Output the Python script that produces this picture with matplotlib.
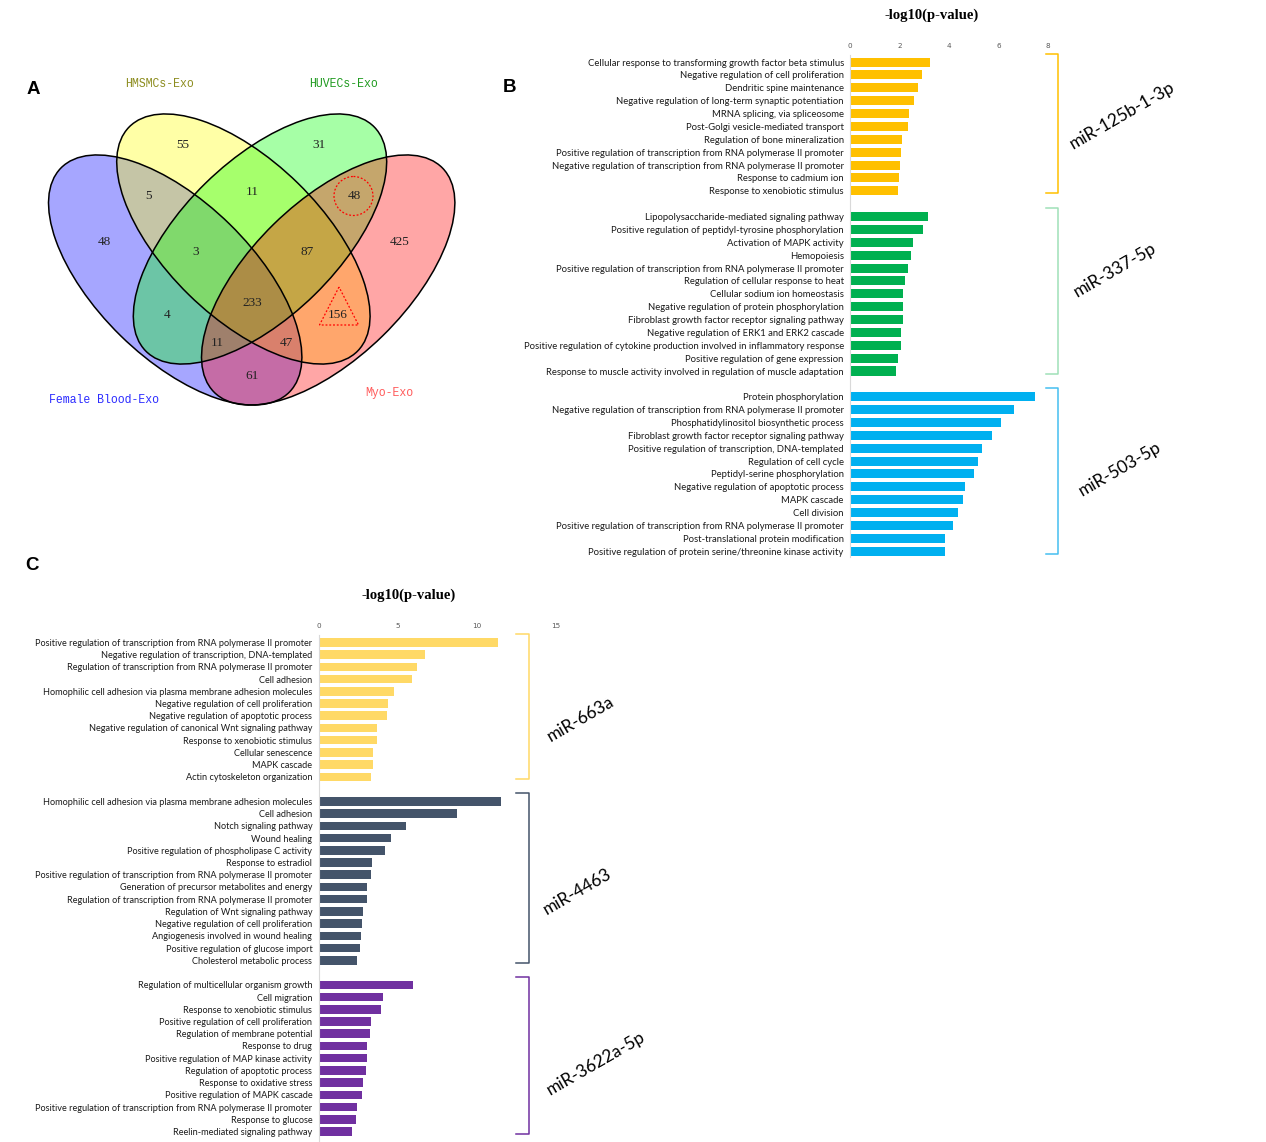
import numpy as np
import matplotlib.pyplot as plt
from matplotlib.patches import Ellipse, Circle, Polygon

# ---------------- data ----------------
venn_sets = ['Female Blood-Exo', 'HMSMCs-Exo', 'HUVECs-Exo', 'Myo-Exo']
venn_set_colors = ['#2b2bff', '#8c8c1e', '#1f9a1f', '#ff5a5a']
venn_fill = ['#0000ff', '#ffff00', '#00ff00', '#ff0000']
venn_regions = ['B', 'H', 'U', 'M', 'BH', 'HU', 'UM', 'BHU', 'HUM', 'BHUM', 'BU', 'HM', 'BUM', 'BHM', 'BM']
venn_counts = [48, 55, 31, 425, 5, 11, 48, 3, 87, 233, 4, 156, 11, 47, 61]

b1_terms = ['Cellular response to transforming growth factor beta stimulus',
            'Negative regulation of cell proliferation',
            'Dendritic spine maintenance',
            'Negative regulation of long-term synaptic potentiation',
            'MRNA splicing, via spliceosome',
            'Post-Golgi vesicle-mediated transport',
            'Regulation of bone mineralization',
            'Positive regulation of transcription from RNA polymerase II promoter',
            'Negative regulation of transcription from RNA polymerase II promoter',
            'Response to cadmium ion',
            'Response to xenobiotic stimulus']
b1_vals = [3.24, 2.90, 2.76, 2.60, 2.40, 2.34, 2.11, 2.08, 2.04, 1.97, 1.93]

b2_terms = ['Lipopolysaccharide-mediated signaling pathway',
            'Positive regulation of peptidyl-tyrosine phosphorylation',
            'Activation of MAPK activity',
            'Hemopoiesis',
            'Positive regulation of transcription from RNA polymerase II promoter',
            'Regulation of cellular response to heat',
            'Cellular sodium ion homeostasis',
            'Negative regulation of protein phosphorylation',
            'Fibroblast growth factor receptor signaling pathway',
            'Negative regulation of ERK1 and ERK2 cascade',
            'Positive regulation of cytokine production involved in inflammatory response',
            'Positive regulation of gene expression',
            'Response to muscle activity involved in regulation of muscle adaptation']
b2_vals = [3.14, 2.94, 2.56, 2.46, 2.36, 2.21, 2.16, 2.14, 2.14, 2.08, 2.06, 1.94, 1.85]

b3_terms = ['Protein phosphorylation',
            'Negative regulation of transcription from RNA polymerase II promoter',
            'Phosphatidylinositol biosynthetic process',
            'Fibroblast growth factor receptor signaling pathway',
            'Positive regulation of transcription, DNA-templated',
            'Regulation of cell cycle',
            'Peptidyl-serine phosphorylation',
            'Negative regulation of apoptotic process',
            'MAPK cascade',
            'Cell division',
            'Positive regulation of transcription from RNA polymerase II promoter',
            'Post-translational protein modification',
            'Positive regulation of protein serine/threonine kinase activity']
b3_vals = [7.49, 6.61, 6.11, 5.72, 5.32, 5.17, 5.01, 4.65, 4.55, 4.37, 4.16, 3.85, 3.85]

c1_terms = ['Positive regulation of transcription from RNA polymerase II promoter',
            'Negative regulation of transcription, DNA-templated',
            'Regulation of transcription from RNA polymerase II promoter',
            'Cell adhesion',
            'Homophilic cell adhesion via plasma membrane adhesion molecules',
            'Negative regulation of cell proliferation',
            'Negative regulation of apoptotic process',
            'Negative regulation of canonical Wnt signaling pathway',
            'Response to xenobiotic stimulus',
            'Cellular senescence',
            'MAPK cascade',
            'Actin cytoskeleton organization']
c1_vals = [11.37, 6.75, 6.25, 5.89, 4.80, 4.38, 4.33, 3.72, 3.70, 3.43, 3.41, 3.31]

c2_terms = ['Homophilic cell adhesion via plasma membrane adhesion molecules',
            'Cell adhesion',
            'Notch signaling pathway',
            'Wound healing',
            'Positive regulation of phospholipase C activity',
            'Response to estradiol',
            'Positive regulation of transcription from RNA polymerase II promoter',
            'Generation of precursor metabolites and energy',
            'Regulation of transcription from RNA polymerase II promoter',
            'Regulation of Wnt signaling pathway',
            'Negative regulation of cell proliferation',
            'Angiogenesis involved in wound healing',
            'Positive regulation of glucose import',
            'Cholesterol metabolic process']
c2_vals = [11.55, 8.73, 5.50, 4.55, 4.17, 3.40, 3.29, 3.04, 3.04, 2.82, 2.77, 2.66, 2.59, 2.41]

c3_terms = ['Regulation of multicellular organism growth',
            'Cell migration',
            'Response to xenobiotic stimulus',
            'Positive regulation of cell proliferation',
            'Regulation of membrane potential',
            'Response to drug',
            'Positive regulation of MAP kinase activity',
            'Regulation of apoptotic process',
            'Response to oxidative stress',
            'Positive regulation of MAPK cascade',
            'Positive regulation of transcription from RNA polymerase II promoter',
            'Response to glucose',
            'Reelin-mediated signaling pathway']
c3_vals = [6.00, 4.08, 3.92, 3.29, 3.25, 3.06, 3.04, 2.98, 2.84, 2.73, 2.41, 2.39, 2.14]

b_mirs = ['miR-125b-1-3p', 'miR-337-5p', 'miR-503-5p']
b_colors = ['#ffc000', '#00b050', '#00b0f0']
b_bracket_colors = ['#ffc000', '#9fe0b8', '#45bff0']
c_mirs = ['miR-663a', 'miR-4463', 'miR-3622a-5p']
c_colors = ['#ffd966', '#44546a', '#7030a0']

# ---------------- layout ----------------
W, H = 1266, 1142
fig = plt.figure(figsize=(W / 100, H / 100), dpi=100)


def rect(x0, y0, x1, y1):
    return [x0 / W, 1 - y1 / H, (x1 - x0) / W, (y1 - y0) / H]


ov = fig.add_axes([0, 0, 1, 1])
ov.set_xlim(0, W)
ov.set_ylim(H, 0)
ov.axis('off')

# Venn (pixel geometry of the 4-ellipse layout)
ell = [((175.2, 280), 44.4), ((243.4, 239), 44.4), ((260.0, 239), -44.4), ((328.2, 280), -44.4)]
for (c, ang), fc in zip(ell, venn_fill):
    ov.add_patch(Ellipse(c, 320, 156, angle=ang, facecolor=fc, alpha=0.35, edgecolor='none'))
for (c, ang) in ell:
    ov.add_patch(Ellipse(c, 320, 156, angle=ang, facecolor='none', edgecolor='black', lw=1.1))

region_pos = {'B': (104, 242), 'H': (183, 145), 'U': (319, 145), 'M': (400, 242),
              'BH': (149, 196), 'HU': (252, 192), 'UM': (354, 196), 'BHU': (196, 252),
              'HUM': (307, 252), 'BHUM': (252, 303), 'BU': (167, 315), 'HM': (338, 315),
              'BUM': (217, 343), 'BHM': (286, 343), 'BM': (252, 376)}
for r, n in zip(venn_regions, venn_counts):
    x, y = region_pos[r]
    ov.text(x, y, str(n), ha='center', va='center', fontsize=9.5,
            family='Liberation Serif', color='#222222')

ov.add_patch(Circle((353.5, 196), 19.5, fill=False, ec='red', lw=0.9, ls=(0, (1.5, 1.5))))
ov.add_patch(Polygon([(339, 287), (319.5, 325), (358.5, 325)], closed=True, fill=False,
                     ec='red', lw=0.9, ls=(0, (1.5, 1.5))))

set_label_pos = [(104, 400), (160, 84), (343, 84), (389, 393)]
for name, col, (x, y) in zip(venn_sets, venn_set_colors, set_label_pos):
    ov.text(x, y, name, ha='center', va='center', fontsize=8.3, family='Liberation Mono', color=col)

for letter, (x, y) in zip(['A', 'B', 'C'], [(33, 90), (510, 87), (32, 566)]):
    ov.text(x, y, letter, ha='center', va='center', fontsize=13.5, fontweight='bold',
            family='Liberation Sans')

label_font = 'Lato'


def bar_panel(box, xmax, xticks, groups, vals, terms, colors, bcolors, bx, ylim, fs):
    ax = fig.add_axes(rect(*box))
    ax.set_facecolor('none')
    pos, v, t, c = [], [], [], []
    spans = []
    k = 0
    for g in range(groups):
        start = k
        for val, term in zip(vals[g], terms[g]):
            pos.append(k)
            v.append(val)
            t.append(term)
            c.append(colors[g])
            k += 1
        spans.append((start, k - 1))
        k += 1
    ax.barh(pos, v, height=0.7, color=c)
    ax.set_xlim(0, xmax)
    ax.set_ylim(*ylim)
    ax.set_xticks(xticks)
    ax.xaxis.tick_top()
    ax.tick_params(axis='x', length=0, labelsize=5.2, labelcolor='#595959', pad=4)
    ax.set_yticks(pos)
    ax.set_yticklabels(t, fontsize=fs, family=label_font, color='#1a1a1a')
    ax.tick_params(axis='y', length=0, pad=4.5)
    for s in ['top', 'right', 'bottom']:
        ax.spines[s].set_visible(False)
    ax.spines['left'].set_color('#d9d9d9')
    for (s0, s1), bc in zip(spans, bcolors):
        x0, x1 = bx
        ax.plot([x0, x1, x1, x0], [s0 - 0.65, s0 - 0.65, s1 + 0.2, s1 + 0.2],
                color=bc, lw=1.1, clip_on=False)
    return ax


axb = bar_panel((850, 55, 1048, 557), 8, [0, 2, 4, 6, 8], 3,
                [b1_vals, b2_vals, b3_vals], [b1_terms, b2_terms, b3_terms],
                b_colors, b_bracket_colors, (7.9, 8.4), (38.45, -0.55), 6.8)
axc = bar_panel((318.6, 635, 555.7, 1142), 15, [0, 5, 10, 15], 3,
                [c1_vals, c2_vals, c3_vals], [c1_terms, c2_terms, c3_terms],
                c_colors, c_colors, (12.5, 13.3), (40.85, -0.6), 6.55)

ov.text(932, 15, '-log10(p-value)', ha='center', va='center', fontsize=10.5,
        fontweight='bold', family='Liberation Serif')
ov.text(409, 595, '-log10(p-value)', ha='center', va='center', fontsize=10.5,
        fontweight='bold', family='Liberation Serif')

for name, (x, y) in zip(b_mirs + c_mirs, [(1122, 115), (1115, 270), (1120, 469),
                                          (581, 719), (577, 892), (596, 1063)]):
    ov.text(x, y, name, ha='center', va='center', rotation=30, rotation_mode='anchor',
            fontsize=12.5, family=label_font)

fig.savefig('out.png', dpi=100)
